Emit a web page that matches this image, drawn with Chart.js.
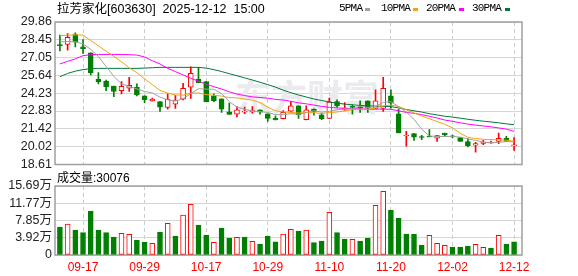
<!DOCTYPE html>
<html>
<head>
<meta charset="utf-8">
<script src="https://cdn.jsdelivr.net/npm/chart.js@4.4.1/dist/chart.umd.min.js"></script>
<style>
  body { margin: 0; background: #fff; }
  #box { position: relative; width: 578px; height: 276px; overflow: hidden; font-family: "Liberation Sans", "Noto Sans CJK SC", sans-serif; }
  #box canvas { position: absolute; left: 0; }
  #kline { top: 0; }
  #vol { top: 170px; }
  .txt { position: absolute; white-space: pre; color: #000; line-height: 1; }
  .lg { position: absolute; top: 3px; font: 11px "Liberation Mono", monospace; letter-spacing: -0.8px; line-height: 1; color: #000; }
  .sw { position: absolute; top: 8px; width: 5px; height: 3px; }
</style>
</head>
<body>
<div id="box">
  <canvas id="kline" width="578" height="175"></canvas>
  <canvas id="vol" width="578" height="106"></canvas>
  <div class="txt" style="left:57px;top:3px;font-size:12.5px">拉芳家化[603630]  2025-12-12  15:00</div>
  <div class="lg" style="left:339px">5PMA</div><div class="sw" style="left:365px;background:#a0a0a0"></div>
  <div class="lg" style="left:381px">10PMA</div><div class="sw" style="left:413px;background:#f4a20d"></div>
  <div class="lg" style="left:426px">20PMA</div><div class="sw" style="left:459px;background:#ff00ff"></div>
  <div class="lg" style="left:472px">30PMA</div><div class="sw" style="left:505px;background:#00783c"></div>
  <div class="txt" id="volTitle" style="left:57px;top:172px;font-size:12px"></div>
</div>
<script>
// 交易日
const dates = [
  '09-12','09-15','09-16','09-17','09-18','09-19','09-22','09-23','09-24','09-25',
  '09-26','09-29','09-30','10-09','10-10','10-13','10-14','10-15','10-16','10-17',
  '10-20','10-21','10-22','10-23','10-24','10-27','10-28','10-29','10-30','10-31',
  '11-03','11-04','11-05','11-06','11-07','11-10','11-11','11-12','11-13','11-14',
  '11-17','11-18','11-19','11-20','11-21','11-24','11-25','11-26','11-27','11-28',
  '12-01','12-02','12-03','12-04','12-05','12-08','12-09','12-10','12-11','12-12'
];

// K线 开 收 高 低
const open = [
  28.05,28.09,28.87,27.90,27.43,25.36,25.20,24.81,24.44,24.63,
  24.71,24.03,23.62,23.58,23.11,23.38,23.77,24.71,25.36,25.15,
  24.03,23.79,22.77,22.59,22.75,22.77,22.93,22.62,22.25,22.22,
  22.83,23.24,22.14,22.98,22.54,22.25,23.58,22.98,23.16,23.14,
  23.64,23.03,23.03,24.03,22.62,20.86,21.05,20.80,20.80,20.68,
  21.10,20.80,20.73,20.41,20.13,20.27,20.31,20.44,20.68,20.08
];
const close = [
  28.00,28.64,28.27,27.75,25.86,25.13,24.76,24.37,24.79,24.87,
  24.13,23.72,23.78,23.14,23.77,23.69,24.63,25.81,25.07,23.58,
  23.64,22.98,22.56,22.93,22.78,22.87,22.75,22.25,22.12,22.72,
  23.24,22.54,22.93,22.80,22.22,23.53,23.24,23.06,23.12,23.08,
  23.06,23.64,24.63,23.45,21.10,20.94,20.76,20.74,20.78,20.89,
  20.94,20.79,20.44,20.10,20.26,20.38,20.36,20.68,20.44,20.12
];
const high = [
  28.82,28.95,29.00,28.48,27.43,25.86,25.28,24.81,25.15,25.50,
  24.97,24.03,23.85,23.58,24.19,24.08,25.02,26.33,26.28,25.15,
  24.19,23.79,23.45,23.19,23.15,23.19,22.93,22.62,22.46,22.87,
  23.58,23.24,23.24,23.00,22.67,23.85,23.71,23.50,23.32,23.64,
  23.64,24.50,25.50,24.50,22.98,21.23,21.05,20.91,21.36,20.91,
  21.10,20.94,20.73,20.63,20.36,20.52,20.45,21.10,20.83,20.73
];
const low = [
  27.58,27.64,27.90,27.38,25.68,24.97,24.44,23.97,24.19,24.37,
  24.03,23.50,23.60,22.80,22.98,23.03,23.71,23.82,25.07,23.58,
  23.58,22.72,22.56,22.36,22.62,22.67,22.59,22.01,22.12,22.20,
  22.80,22.25,22.12,22.51,22.14,22.22,23.14,22.87,22.59,22.72,
  22.72,23.00,22.80,23.06,21.10,20.05,20.52,20.57,20.78,20.44,
  20.83,20.70,20.44,20.00,19.58,20.18,20.28,20.26,20.44,19.73
];
const prevClose = 28.30;

// 均线
const ma5 = [
  28.30,28.32,28.30,28.14,27.70,27.13,26.35,25.57,24.98,24.78,
  24.58,24.38,24.26,23.93,23.71,23.62,23.80,24.21,24.59,24.56,
  24.55,24.22,23.57,23.14,22.98,22.82,22.78,22.72,22.55,22.54,
  22.62,22.57,22.71,22.85,22.75,22.80,22.94,22.97,23.03,23.21,
  23.11,23.19,23.51,23.57,23.18,22.75,22.18,21.40,20.86,20.82,
  20.82,20.83,20.77,20.63,20.51,20.39,20.31,20.36,20.42,20.40
];
const ma10 = [
  28.78,28.82,28.84,28.83,28.40,27.98,27.56,27.14,26.72,26.24,
  25.86,25.37,24.92,24.46,24.25,24.10,24.09,24.23,24.26,24.13,
  24.08,24.01,23.89,23.87,23.77,23.69,23.50,23.14,22.85,22.76,
  22.72,22.68,22.71,22.70,22.64,22.71,22.76,22.84,22.94,22.98,
  22.96,23.07,23.24,23.30,23.19,22.93,22.68,22.45,22.22,22.00,
  21.79,21.50,21.08,20.75,20.66,20.60,20.57,20.56,20.53,20.45
];
const ma20 = [
  26.55,26.75,26.95,27.20,27.28,27.30,27.30,27.30,27.30,27.28,
  27.25,27.10,26.80,26.55,26.20,25.95,25.68,25.42,25.18,24.95,
  24.75,24.57,24.35,24.17,24.05,23.95,23.90,23.85,23.75,23.70,
  23.60,23.48,23.40,23.30,23.20,23.12,23.08,23.05,23.00,23.00,
  22.98,22.98,22.98,22.97,22.85,22.72,22.65,22.55,22.42,22.28,
  22.12,22.02,21.90,21.80,21.72,21.65,21.58,21.50,21.40,21.23
];
const ma30 = [
  25.54,25.80,25.98,26.10,26.18,26.20,26.20,26.20,26.20,26.20,
  26.20,26.22,26.25,26.28,26.28,26.28,26.28,26.28,26.28,26.22,
  26.10,25.95,25.78,25.62,25.45,25.28,25.10,24.92,24.72,24.48,
  24.28,24.10,23.94,23.78,23.66,23.55,23.45,23.38,23.32,23.28,
  23.24,23.22,23.20,23.18,23.08,22.95,22.85,22.75,22.62,22.52,
  22.42,22.35,22.27,22.18,22.10,22.03,21.97,21.90,21.82,21.75
];

// 成交量(万手)
const volume = [
  6.36,7.05,5.68,5.07,10.00,5.68,5.07,4.09,4.93,4.70,
  3.41,2.95,2.65,5.23,7.20,4.32,9.09,11.52,6.82,4.55,
  2.88,6.14,3.86,4.02,4.09,3.11,2.50,4.32,3.02,4.77,
  5.84,5.45,5.68,2.80,3.18,9.70,5.07,3.64,3.57,3.18,
  3.86,11.30,14.48,10.23,8.41,4.77,4.70,2.27,4.48,2.65,
  2.20,1.82,1.82,2.05,2.43,1.75,1.59,4.48,2.50,3.01
];
const lastVolume = '30076';

// 刻度
const priceTicks = [18.61, 20.02, 21.42, 22.83, 24.23, 25.64, 27.05, 28.45, 29.86];
const volTicks = [0, 3.92, 7.85, 11.77, 15.69];
const dateTicks = ['09-17','09-29','10-17','10-29','11-10','11-20','12-02','12-12'];

const RED = '#ff0000', GREEN = '#008000';
const FONT = '"Liberation Sans", "Noto Sans CJK SC", sans-serif';
const tickIdx = dateTicks.map(d => dates.indexOf(d));

document.getElementById('volTitle').textContent = '成交量:' + lastVolume;

function xAxis(labels) {
  return {
    type: 'linear', min: -0.64, max: 60.03, offset: false,
    afterBuildTicks: ax => { ax.ticks = tickIdx.map(v => ({ value: v })); },
    afterFit: ax => { ax.height = labels ? 21 : 10; },
    grid: { color: '#cccccc', lineWidth: 1, drawTicks: false, offset: false },
    border: { display: false, dash: [4, 3] },
    ticks: {
      display: labels, autoSkip: false, maxRotation: 0, padding: 5,
      color: RED, font: { family: FONT, size: 12 },
      callback: v => dates[v]
    }
  };
}

const frame = {
  id: 'frame',
  beforeDatasetsDraw(chart) {
    const { ctx, chartArea: a } = chart;
    ctx.save();
    ctx.strokeStyle = '#a0a0a0';
    ctx.lineWidth = 1.5;
    ctx.strokeRect(a.left, a.top, a.right - a.left, a.bottom - a.top);
    ctx.restore();
  }
};

const watermark = {
  id: 'watermark',
  beforeDatasetsDraw(chart) {
    const ctx = chart.ctx;
    ctx.save();
    ctx.font = 'bold 36px "Noto Sans CJK SC"';
    ctx.fillStyle = '#ebebef';
    ctx.textAlign = 'center';
    ctx.textBaseline = 'middle';
    ctx.fillText('东方财富', 307, 97);
    ctx.restore();
  }
};

const up = close.map((c, i) => c >= open[i]);
const volUp = close.map((c, i) => c >= (i ? close[i - 1] : prevClose));

function maLine(data, color, order) {
  return {
    type: 'line', data: data.map((v, i) => ({ x: i, y: v })),
    borderColor: color, borderWidth: 1, pointRadius: 0, tension: 0, order
  };
}

new Chart(document.getElementById('kline'), {
  type: 'bar',
  data: {
    datasets: [
      maLine(ma5, '#a0a0a0', 0),
      maLine(ma10, '#f4a20d', 1),
      maLine(ma20, '#ff00ff', 2),
      maLine(ma30, '#00783c', 3),
      {
        data: open.map((o, i) => ({ x: i, y: [o, close[i]] })),
        backgroundColor: up.map(u => u ? '#ffffff' : GREEN),
        borderColor: up.map(u => u ? RED : GREEN),
        borderWidth: 1, borderSkipped: false, barThickness: 5, minBarLength: 1,
        grouped: false, order: 4
      },
      {
        data: low.map((l, i) => ({ x: i, y: [l, high[i]] })),
        backgroundColor: up.map(u => u ? RED : GREEN),
        borderWidth: 0, barThickness: 1, minBarLength: 1,
        grouped: false, order: 5
      }
    ]
  },
  options: {
    responsive: false, animation: false, events: [],
    layout: { padding: { top: 22, right: 56, left: 0, bottom: 0 } },
    plugins: { legend: { display: false }, tooltip: { enabled: false } },
    scales: {
      x: xAxis(false),
      y: {
        min: 18.61, max: 29.86,
        afterBuildTicks: ax => { ax.ticks = priceTicks.map(v => ({ value: v })); },
        afterFit: ax => { ax.width = 55; },
        grid: { color: '#d6d6d6', drawTicks: false },
        border: { display: false },
        ticks: { autoSkip: false, padding: 3, color: '#222', font: { family: FONT, size: 12.5 }, callback: v => v.toFixed(2) }
      }
    }
  },
  plugins: [watermark, frame]
});

new Chart(document.getElementById('vol'), {
  type: 'bar',
  data: {
    datasets: [{
      data: volume.map((v, i) => ({ x: i, y: v })),
      backgroundColor: volUp.map(u => u ? '#ffffff' : GREEN),
      borderColor: volUp.map(u => u ? RED : GREEN),
      borderWidth: 1, borderSkipped: false, barThickness: 5
    }]
  },
  options: {
    responsive: false, animation: false, events: [],
    layout: { padding: { top: 16, right: 56, left: 0, bottom: 0 } },
    plugins: { legend: { display: false }, tooltip: { enabled: false } },
    scales: {
      x: xAxis(true),
      y: {
        min: 0, max: 15.69,
        afterBuildTicks: ax => { ax.ticks = volTicks.map(v => ({ value: v })); },
        afterFit: ax => { ax.width = 55; },
        grid: { color: '#d6d6d6', drawTicks: false },
        border: { display: false },
        ticks: {
          autoSkip: false, padding: 3, color: '#222', font: { family: FONT, size: 12.5 },
          callback: v => v === 0 ? '0' : v.toFixed(2) + '万'
        }
      }
    }
  },
  plugins: [frame]
});
</script>
</body>
</html>
